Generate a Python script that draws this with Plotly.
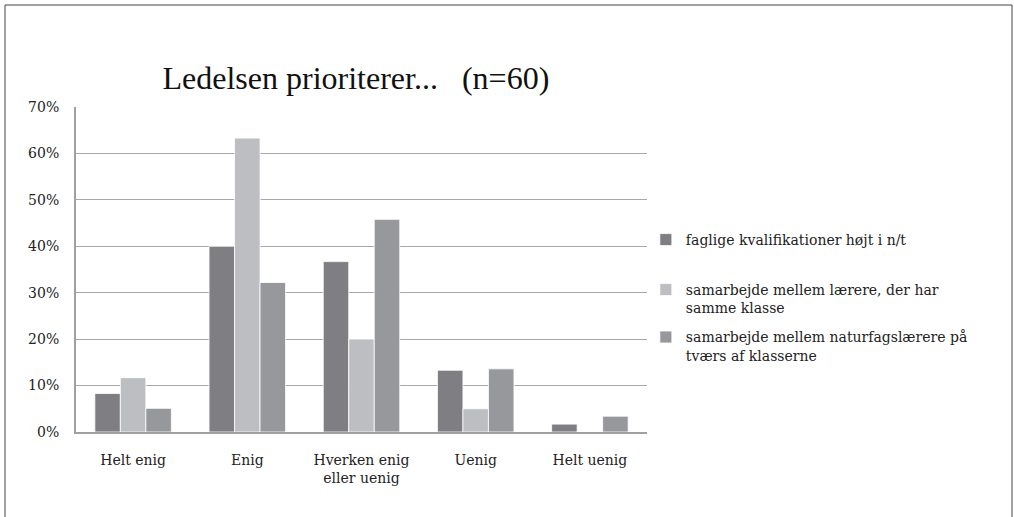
import plotly.graph_objects as go

categories = ["Helt enig", "Enig", "Hverken enig<br>eller uenig", "Uenig", "Helt uenig"]
series_names = [
    "faglige kvalifikationer højt i n/t",
    "samarbejde mellem lærere, der har<br>samme klasse",
    "samarbejde mellem naturfagslærere på<br>tværs af klasserne",
]
s1 = [8.3, 40.0, 36.7, 13.3, 1.7]
s2 = [11.7, 63.3, 20.0, 5.0, 0.0]
s3 = [5.1, 32.2, 45.8, 13.6, 3.4]
colors = ["#7f7f83", "#bdbec1", "#97989b"]
y_ticks = [0, 10, 20, 30, 40, 50, 60, 70]

FONT = "DejaVu Serif"
TFONT = "Liberation Serif"
fig = go.Figure()
legends = ["legend", "legend2", "legend2"]
for i, (name, vals) in enumerate(zip(series_names, [s1, s2, s3])):
    fig.add_trace(go.Bar(
        x=categories, y=vals, name=name, legendgroup=f"g{i}", legend=legends[i],
        marker=dict(color=colors[i], line=dict(color="white", width=0.8)),
    ))

legfont = dict(family=FONT, size=14, color="#222222")
fig.update_layout(
    width=1014, height=517,
    margin=dict(l=76, r=367, t=107, b=85),
    paper_bgcolor="white", plot_bgcolor="white",
    barmode="group", bargap=0.33, bargroupgap=0,
    font=dict(family=FONT, color="#222222", size=14),
    title=dict(text="Ledelsen prioriterer...   (n=60)", x=0.351, xanchor="center",
               y=0.85, yanchor="middle", font=dict(family=TFONT, size=32, color="#111111")),
    legend=dict(x=0.998, xanchor="left", y=(432 - 240) / 325, yanchor="middle",
                font=legfont, valign="top", itemwidth=30, bgcolor="rgba(0,0,0,0)"),
    legend2=dict(x=0.998, xanchor="left", y=(432 - 274) / 325, yanchor="top",
                 font=legfont, valign="top", itemwidth=30, tracegroupgap=8,
                 bgcolor="rgba(0,0,0,0)"),
    showlegend=True,
)
fig.update_xaxes(showline=True, linecolor="#a0a0a0", linewidth=2, ticks="",
                 ticklabelstandoff=14,
                 tickfont=dict(family=FONT, size=14, color="#222222"), fixedrange=True)
fig.update_yaxes(range=[0, 70], tickvals=y_ticks, ticktext=[f"{v}%" for v in y_ticks],
                 showgrid=True, gridcolor="#a8a8a8", gridwidth=1,
                 showline=True, linecolor="#a0a0a0", linewidth=2, mirror=False,
                 zeroline=False, ticks="", ticklen=0, ticklabelstandoff=12,
                 tickfont=dict(family=FONT, size=14, color="#222222"))
# outer chart border
fig.add_shape(type="rect", xref="paper", yref="paper",
              x0=(5 - 76) / 571, x1=(1012 - 76) / 571,
              y0=-0.4, y1=(432 - 5) / 325,
              line=dict(color="#444444", width=1), fillcolor="rgba(0,0,0,0)", layer="below")
fig.write_html("out.html")
